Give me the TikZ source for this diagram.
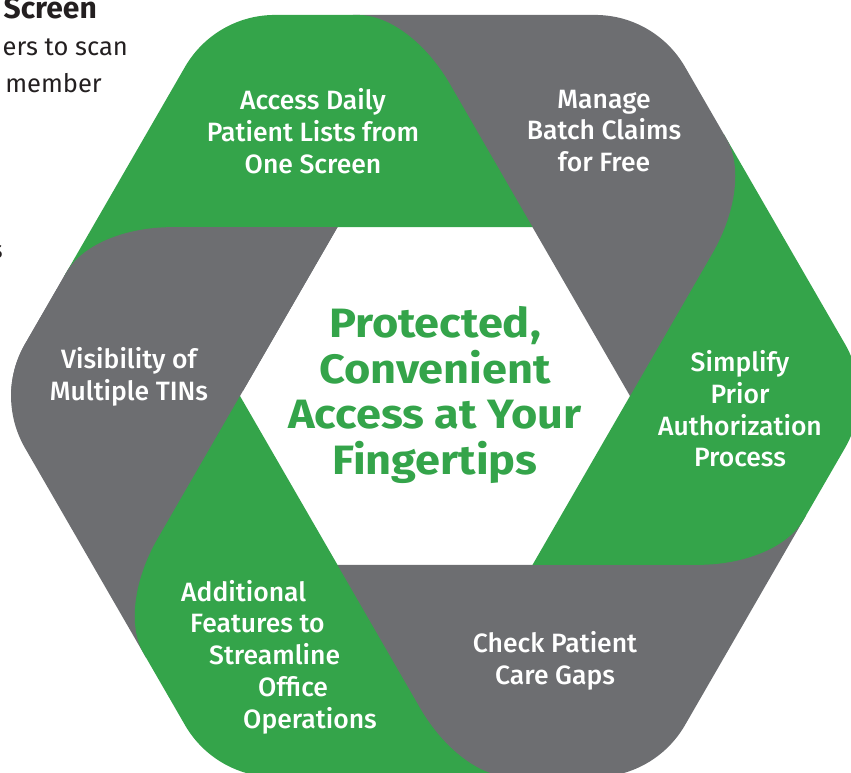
\documentclass[tikz,border=0pt]{standalone}
\usepackage{fontspec}
\setmainfont{Fira Sans}
\newfontfamily\medfont{Fira Sans Medium}
\newfontfamily\titlefont{Fira Sans}[FakeStretch=1.1]
\definecolor{pgreen}{HTML}{34A44A}
\definecolor{pgray}{HTML}{6D6E71}
\definecolor{ink}{HTML}{231F20}
\begin{document}
\begin{tikzpicture}[x=1pt,y=1pt,
  lbl/.style={text=white, font=\medfont\fontsize{26.5}{31.7}\selectfont, align=center, inner sep=0pt},
  ttl/.style={text=pgreen, font=\titlefont\bfseries\fontsize{41}{45.7}\selectfont, align=center, inner sep=0pt},
  side/.style={text=ink, font=\fontsize{25.5}{28}\selectfont, inner sep=0pt, anchor=base east}]
\useasboundingbox (0,0) rectangle (851,-773);
\clip (0,0) rectangle (851,-773);
\def\piecepath{(195,0) -- (97.5,168.87) -- (-90,300) -- (-82,381.05) -- (160,381.05) .. controls (197.2,381.05) and (231.4,361.3) .. (250,329.09) -- (291.5,257.2) .. controls (307.1,230.2) and (301.5,184.5) .. (277.5,142.9) -- cycle}
\begin{scope}[shift={(435,-396)}]
  \fill[pgray,rotate=120] \piecepath;  % Visibility
  \fill[pgreen,rotate=180] \piecepath; % Additional
  \fill[pgray,rotate=240] \piecepath;  % Check
  \fill[pgreen,rotate=-60] \piecepath; % Simplify
  \fill[pgray] \piecepath;             % Manage
  \fill[pgreen,rotate=60] \piecepath;  % Access
  \begin{scope}
    \clip (-500,6) rectangle (500,500);
    \fill[pgray,rotate=120] \piecepath; % Visibility top end over Access
  \end{scope}
\end{scope}
\node[lbl] (access) at (313,-131) {Access Daily\\Patient Lists from\\One Screen};
\node[lbl] (manage) at (604,-131) {Manage\\Batch Claims\\for Free};
\node[lbl] (simplify) at (740,-409) {Simplify\\Prior\\Authorization\\Process};
\node[lbl] (check) at (555,-660.5) {Check Patient\\Care Gaps};
\node[lbl,align=left,anchor=west] (additional) at (181,-657) {Additional\\\hspace*{9pt}Features to\\\hspace*{28pt}Streamline\\\hspace*{77pt}Office\\\hspace*{62pt}Operations};
\node[lbl] (visibility) at (129,-377) {Visibility of\\Multiple TINs};
\node[ttl] (title) at (435,-395) {Protected,\\Convenient\\Access at Your\\Fingertips};
\node[side,font=\bfseries\fontsize{30}{32}\selectfont] (t1) at (97,-19) {Screen};
\node[side] (t2) at (128,-56) {ers to scan};
\node[side] (t3) at (102,-93) {member};
\node[side] (t4) at (3,-258) {s};
\end{tikzpicture}
\end{document}
